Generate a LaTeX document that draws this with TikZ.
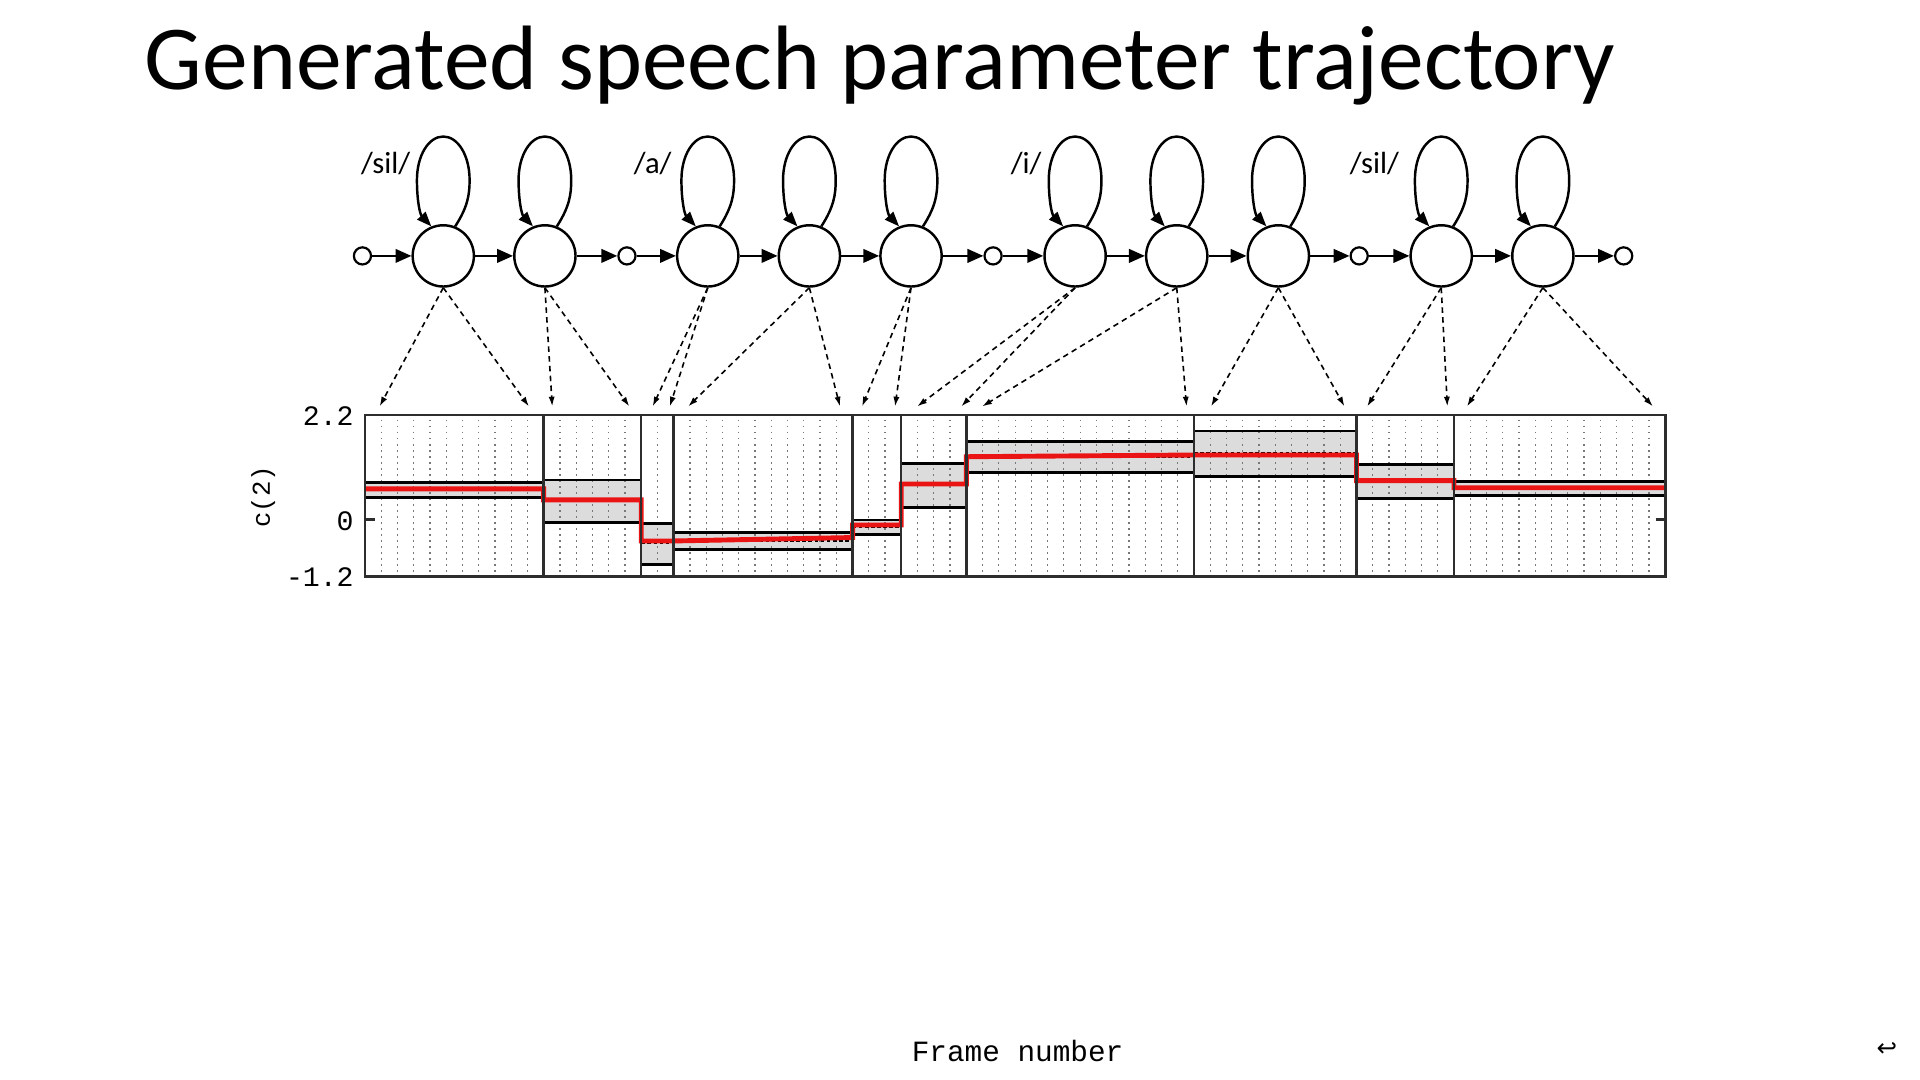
\documentclass[tikz,border=0pt]{standalone}
\usepackage{fontspec}
\setmainfont{Carlito}
\newfontfamily\monofont{Liberation Mono}
\newfontfamily\symfont{DejaVu Sans}
\usetikzlibrary{arrows.meta,calc}
\definecolor{bandgrey}{RGB}{220,220,220}
\definecolor{dotgrey}{RGB}{120,120,120}
\definecolor{framegrey}{RGB}{45,45,45}
\definecolor{trajred}{RGB}{235,20,20}
\newcommand\hmmloop[1]{\draw[selfloop] (#1.68) .. controls ($(#1)+(20,40)$) and ($(#1)+(21.5,50)$) .. ($(#1)+(21.5,62)$) .. controls ($(#1)+(21.5,82)$) and ($(#1)+(12,97.5)$) .. ($(#1)+(0,97.5)$) .. controls ($(#1)+(-12,97.5)$) and ($(#1)+(-21.5,82)$) .. ($(#1)+(-21.5,62)$) .. controls ($(#1)+(-21.5,45)$) and ($(#1)+(-19,34)$) .. (#1.112);}
\begin{document}
\begin{tikzpicture}[x=1pt,y=1pt,
  state/.style={circle,draw,line width=2pt,minimum size=50pt,inner sep=0pt},
  endst/.style={circle,draw,line width=1.8pt,minimum size=14pt,inner sep=0pt},
  chainarrow/.style={line width=2pt,-{Triangle[length=13pt,width=11pt]}},
  selfloop/.style={line width=2pt,-{Triangle[length=12pt,width=9pt]}},
  emit/.style={line width=1.3pt,dash pattern=on 4.5pt off 3.5pt,-{Latex[length=8pt,width=5pt]}},
  lab/.style={inner sep=0pt,font=\fontsize{25}{25}\selectfont},
  axlab/.style={inner sep=0pt,anchor=east,font=\monofont\fontsize{23}{23}\selectfont},
  bandfill/.style={fill=bandgrey},
  bandedge/.style={line width=2.4pt,black},
  meanline/.style={line width=1.6pt,black,dash pattern=on 3pt off 2pt},
  gridline/.style={line width=1pt,dotgrey,dash pattern=on 1.2pt off 3.71pt},
  segline/.style={line width=2pt,framegrey},
  redline/.style={line width=4pt,trajred,line join=miter},
]
\useasboundingbox (0,0) rectangle (1568,882);
\fill[white] (0,0) rectangle (1568,882);

% title
\node[anchor=base west,inner sep=0pt,font=\fontsize{74.7}{80}\selectfont] (title) at (118,808.5) {Generated speech parameter trajectory};

% HMM chain
\node[endst] (e1) at (296,673) {};
\node[state] (s1) at (362,673) {};
\node[state] (s2) at (445,673) {};
\node[endst] (e2) at (512,673) {};
\node[state] (s3) at (578,673) {};
\node[state] (s4) at (661,673) {};
\node[state] (s5) at (744,673) {};
\node[endst] (e3) at (811,673) {};
\node[state] (s6) at (878,673) {};
\node[state] (s7) at (961,673) {};
\node[state] (s8) at (1044,673) {};
\node[endst] (e4) at (1110,673) {};
\node[state] (s9) at (1177,673) {};
\node[state] (s10) at (1260,673) {};
\node[endst] (e5) at (1326,673) {};

\foreach \a/\b in {e1/s1,s1/s2,s2/e2,e2/s3,s3/s4,s4/s5,s5/e3,e3/s6,s6/s7,s7/s8,s8/e4,e4/s9,s9/s10,s10/e5}
  {\draw[chainarrow] (\a) -- (\b);}

\foreach \s in {s1,s2,s3,s4,s5,s6,s7,s8,s9,s10}
  {\hmmloop{\s}}

\node[lab] (l1) at (315,748.5) {/sil/};
\node[lab] (l2) at (533,748.5) {/a/};
\node[lab] (l3) at (838,748.5) {/i/};
\node[lab] (l4) at (1122.5,748.5) {/sil/};

% emission arrows
\foreach \s/\xa/\xb in {s1/310/432,s2/451/514,s3/533/547,s4/562/686,s5/704/731,s6/749/785,s7/802/969,s8/989/1098,s9/1116.5/1182,s10/1198/1350}{
  \coordinate (\s-l) at (\xa,550);
  \coordinate (\s-r) at (\xb,550);
  \draw[emit] (\s.south) -- (\s-l);
  \draw[emit] (\s.south) -- (\s-r);
}

% plot: bands
\foreach \xa/\xb/\tp/\bt in {298/444/488/476,444/523.7/490/455,523.7/550.2/454.3/421.1,550.2/696.3/447/433.4,696.3/736/457.3/445.7,736/789.2/503.6/467.4,789.2/975/521.3/496,975/1107.8/530/492.7,1107.8/1187.4/502.8/475,1187.4/1360/488.6/477.7}
  {\fill[bandfill] (\xa,\bt) rectangle (\xb,\tp);}

% dotted frame grid
\foreach \a/\b in {1/10,12/16,18/18,20/29,31/32,34/36,38/50,52/60,62/66,68/79}
  {\foreach \i in {\a,...,\b}
    {\draw[gridline] ({298+\i*13.275},539) -- ({298+\i*13.275},413);}}

% band edges and means
\foreach \xa/\xb/\tp/\bt/\m in {298/444/488/476/482.7,444/523.7/490/455/472.5,523.7/550.2/454.3/421.1/438.5,550.2/696.3/447/433.4/440.2,696.3/736/457.3/445.7/451.4,736/789.2/503.6/467.4/485.5,789.2/975/521.3/496/508.6,975/1107.8/530/492.7/511.8,1107.8/1187.4/502.8/475/489,1187.4/1360/488.6/477.7/483.1}{
  \draw[bandedge] (\xa,\tp) -- (\xb,\tp) (\xa,\bt) -- (\xb,\bt);
  \draw[meanline] (\xa,\m) -- (\xb,\m);
}

% generated trajectory
\draw[redline] (298,482.7) -- (444,482.7) -- (444,473.7) -- (523.7,473.7) -- (523.7,440.2) -- (550.2,440.2) -- (696.3,443) -- (696.3,453.2) -- (736,453.2) -- (736,486.7) -- (789.2,486.7) -- (789.2,509) -- (975,510.4) -- (1107.8,510.4) -- (1107.8,489.5) -- (1187.4,489.5) -- (1187.4,483.7) -- (1360,483.7);

% segment boundaries and frame
\foreach \x in {444,523.7,550.2,696.3,736,789.2,975,1107.8,1187.4}
  {\draw[segline] (\x,411) -- (\x,543);}
\draw[segline] (298,411) rectangle (1360,543);
\draw[segline] (298,457.6) -- (306,457.6) (1352,457.6) -- (1360,457.6);

% axis labels
\node[axlab] (y22) at (289,542) {2.2};
\node[axlab] (y0) at (289,456) {0};
\node[axlab] (y12) at (289,410.5) {-1.2};
\node[inner sep=0pt,rotate=90,font=\monofont\fontsize{21}{21}\selectfont] (ylab) at (215,476.4) {c(2)};
\node[inner sep=0pt,font=\monofont\fontsize{24}{24}\selectfont] (xlab) at (831,24) {Frame number};
\node[inner sep=0pt,font=\symfont\fontsize{20}{20}\selectfont] (ret) at (1541,25) {↩};
\end{tikzpicture}
\end{document}
